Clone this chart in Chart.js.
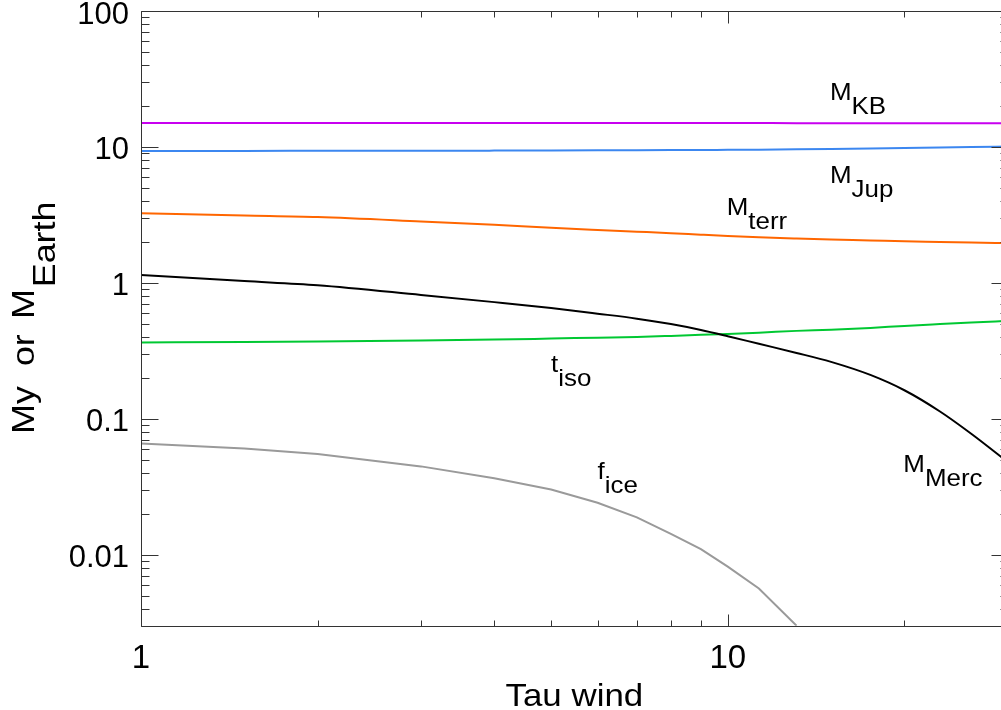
<!DOCTYPE html>
<html>
<head>
<meta charset="utf-8">
<script src="https://cdn.jsdelivr.net/npm/chart.js@4.4.1/dist/chart.umd.min.js"></script>
<style>
  html, body { margin: 0; padding: 0; overflow: hidden; background: #fff; }
  #wrap { position: absolute; left: 0; top: 0; width: 1016px; height: 710px; }
</style>
</head>
<body>
<div id="wrap"><canvas id="c"></canvas></div>
<script>
// Wind timescale (x) and the quantities plotted against it
const tauWind = [1, 1.5, 2, 3, 4, 5, 6, 7, 8, 9, 10, 11.3, 13.1, 15, 17.5, 20, 23, 26, 30];
const massKB   = [15.0, 15.0, 15.0, 15.0, 15.0, 14.99, 14.99, 14.98, 14.98, 14.98, 14.97, 14.97, 14.96, 14.96, 14.95, 14.95, 14.94, 14.94, 14.93];
const massJup  = [9.35, 9.35, 9.36, 9.37, 9.39, 9.41, 9.43, 9.45, 9.47, 9.49, 9.52, 9.55, 9.6, 9.66, 9.74, 9.82, 9.9, 9.98, 10.08];
const massTerr = [3.25, 3.13, 3.05, 2.83, 2.67, 2.54, 2.45, 2.38, 2.32, 2.26, 2.21, 2.16, 2.115, 2.08, 2.05, 2.02, 2.0, 1.98, 1.96];
const massMerc = [1.14, 1.03, 0.96, 0.815, 0.721, 0.652, 0.593, 0.545, 0.497, 0.45, 0.405, 0.356, 0.305, 0.262, 0.21, 0.162, 0.113, 0.0775, 0.048];
const tIso     = [0.364, 0.367, 0.37, 0.376, 0.382, 0.389, 0.395, 0.4, 0.407, 0.414, 0.421, 0.43, 0.443, 0.452, 0.466, 0.482, 0.497, 0.51, 0.525];
const fIce     = [0.0657, 0.0603, 0.0551, 0.0446, 0.0365, 0.0301, 0.0241, 0.0188, 0.0142, 0.01096, 0.00817, 0.00564, 0.003, null, null, null, null, null, null];

// Axis ranges and labelled decades
const xRange = [1, 30];
const yRange = [0.003, 100];
const xMajorTicks = [1, 10];
const yMajorTicks = [0.01, 0.1, 1, 10, 100];

// Curve names, anchored in data coordinates (tau, value of the text baseline)
const curveLabels = [
  { main: 'M', sub: 'KB',   tau: 15, val: 22 },
  { main: 'M', sub: 'Jup',  tau: 15, val: 5.43 },
  { main: 'M', sub: 'terr', tau: 10, val: 3.14 },
  { main: 't', sub: 'iso',  tau: 5,  val: 0.221 },
  { main: 'f', sub: 'ice',  tau: 6,  val: 0.0363 },
  { main: 'M', sub: 'Merc', tau: 20, val: 0.0406 }
];

const FONT = "'Liberation Sans', Arial, Helvetica, sans-serif";

function pts(vals) {
  return tauWind.map((t, i) => ({ x: t, y: vals[i] })).filter(p => p.y !== null);
}

function logTicks(min, max) {
  const out = [];
  for (let e = Math.floor(Math.log10(min)); e <= Math.ceil(Math.log10(max)); e++) {
    for (let k = 1; k <= 9; k++) {
      const v = k * Math.pow(10, e);
      if (v >= min * 0.999 && v <= max * 1.001) out.push({ v, major: k === 1 });
    }
  }
  return out;
}

// text with an optional lowered subscript, widened slightly along the baseline
function subText(ctx, inkLeft, baseline, main, sub, size, drop, stretch) {
  ctx.font = size + 'px ' + FONT;
  const m = ctx.measureText(main);
  ctx.save();
  ctx.translate(inkLeft + m.actualBoundingBoxLeft * stretch, baseline);
  ctx.scale(stretch, 1);
  ctx.fillText(main, 0, 0);
  if (sub) ctx.fillText(sub, m.width, drop);
  ctx.restore();
}

const framePlugin = {
  id: 'frame',
  afterDatasetsDraw(chart) {
    const { ctx, chartArea: a, scales: { x, y } } = chart;
    const L = Math.round(a.left) + 0.5, R = Math.round(a.right) + 0.5;
    const T = Math.round(a.top) + 0.5, B = Math.round(a.bottom) + 0.5;
    ctx.save();
    ctx.strokeStyle = '#333';
    ctx.lineWidth = 1;
    ctx.beginPath();
    ctx.rect(L, T, R - L, B - T);
    for (const t of logTicks(xRange[0], xRange[1])) {
      const px = Math.round(x.getPixelForValue(t.v)) + 0.5;
      const len = t.major ? 12 : 6;
      ctx.moveTo(px, B); ctx.lineTo(px, B - len);
      ctx.moveTo(px, T); ctx.lineTo(px, T + len);
    }
    for (const t of logTicks(yRange[0], yRange[1])) {
      const py = Math.round(y.getPixelForValue(t.v)) + 0.5;
      const len = t.major ? 17 : 8;
      ctx.moveTo(L, py); ctx.lineTo(L + len, py);
      ctx.moveTo(R, py); ctx.lineTo(R - len, py);
    }
    ctx.stroke();

    ctx.fillStyle = '#000';
    ctx.textBaseline = 'alphabetic';
    ctx.textAlign = 'left';
    for (const c of curveLabels) {
      subText(ctx, x.getPixelForValue(c.tau), y.getPixelForValue(c.val), c.main, c.sub, 24, 14, 1.08);
    }

    // x-axis title
    ctx.font = '32px ' + FONT;
    ctx.save();
    ctx.translate((a.left + a.right) / 2, 706);
    ctx.scale(1.09, 1);
    ctx.textAlign = 'center';
    ctx.fillText('Tau wind', 0, 0);
    ctx.restore();

    // y-axis title, reading upwards
    ctx.save();
    ctx.translate(33.5, 0);
    ctx.rotate(-Math.PI / 2);
    const yt = (text, inkStart, drop) => {
      const m = ctx.measureText(text);
      ctx.save();
      ctx.translate(-inkStart + m.actualBoundingBoxLeft * 1.12, drop);
      ctx.scale(1.12, 1);
      ctx.fillText(text, 0, 0);
      ctx.restore();
    };
    yt('My', 431.7, 0);
    yt('or', 365, 0);
    yt('M', 316.7, 0);
    yt('Earth', 285, 21.5);
    ctx.restore();
    ctx.restore();
  }
};

const lineSet = (label, vals, color, smooth) => ({
  label, data: pts(vals), borderColor: color, borderWidth: 2,
  pointRadius: 0, fill: false,
  cubicInterpolationMode: smooth ? 'monotone' : 'default', tension: 0
});

new Chart(document.getElementById('c'), {
  type: 'line',
  data: {
    datasets: [
      lineSet('M_KB', massKB, '#c800f0', true),
      lineSet('M_Jup', massJup, '#3c87f0', true),
      lineSet('M_terr', massTerr, '#ff6600', true),
      lineSet('M_Merc', massMerc, '#000000', true),
      lineSet('t_iso', tIso, '#00c832', true),
      lineSet('f_ice', fIce, '#9a9a9a', false)
    ]
  },
  options: {
    responsive: true,
    maintainAspectRatio: false,
    animation: false,
    devicePixelRatio: 1,
    layout: { padding: { left: 0, top: 11, right: 8.3, bottom: 0 } },
    plugins: { legend: { display: false }, tooltip: { enabled: false } },
    scales: {
      x: {
        type: 'logarithmic', min: xRange[0], max: xRange[1],
        grid: { display: false, drawTicks: false }, border: { display: false },
        ticks: { font: { family: FONT, size: 33 }, color: '#000', padding: 13,
                 autoSkip: false, maxRotation: 0, callback: v => String(v) },
        afterBuildTicks: s => { s.ticks = xMajorTicks.map(v => ({ value: v })); },
        afterFit: s => { s.height = 84.3; s.paddingLeft = 0; s.paddingRight = 0; }
      },
      y: {
        type: 'logarithmic', min: yRange[0], max: yRange[1],
        grid: { display: false, drawTicks: false }, border: { display: false },
        ticks: { font: { family: FONT, size: 31 }, color: '#000', padding: 12,
                 labelOffset: 4, autoSkip: false, callback: v => String(v) },
        afterBuildTicks: s => { s.ticks = yMajorTicks.map(v => ({ value: v })); },
        afterFit: s => { s.width = 141; s.paddingTop = 0; s.paddingBottom = 0; }
      }
    }
  },
  plugins: [framePlugin]
});
</script>
</body>
</html>
